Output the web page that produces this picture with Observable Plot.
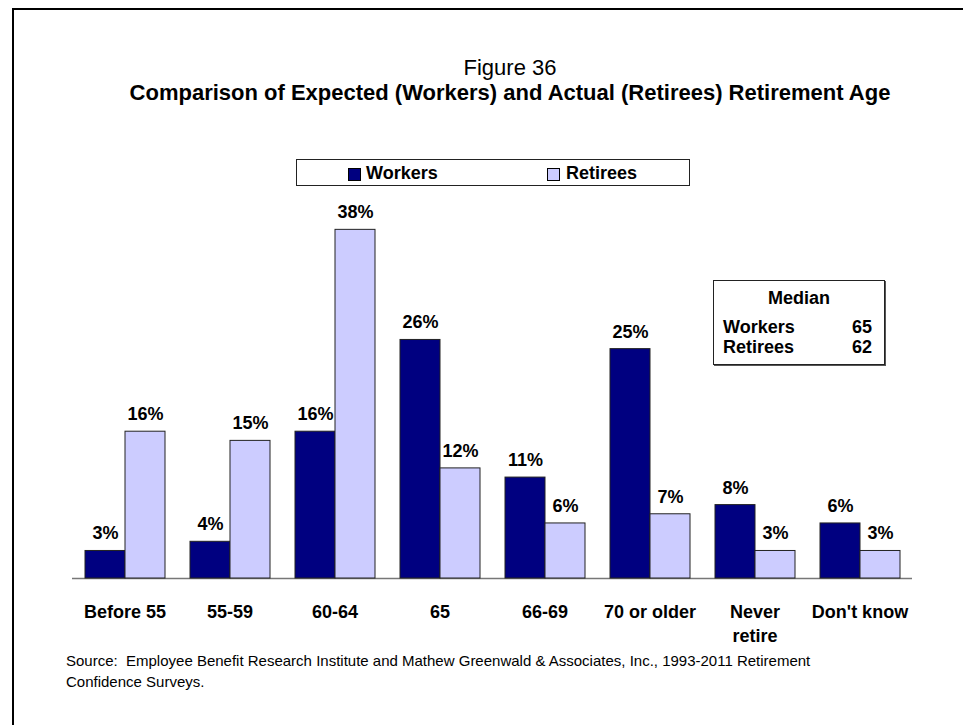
<!DOCTYPE html>
<html>
<head>
<meta charset="utf-8">
<script src="https://cdn.jsdelivr.net/npm/d3@7"></script>
<script src="https://cdn.jsdelivr.net/npm/@observablehq/plot@0.6"></script>
<style>
  body { margin: 0; background: #fff; font-family: "Liberation Sans", Arial, sans-serif; color: #000; }
  #page { position: relative; width: 963px; height: 725px; overflow: hidden; background: #fff; }
  #border { position: absolute; left: 12px; top: 8px; width: 1200px; height: 1000px; border-left: 2px solid #000; border-top: 2px solid #000; }
  .abs { position: absolute; white-space: pre; }
  #title { left: 0; width: 1020px; top: 55px; text-align: center; font-size: 22px; line-height: 25px; }
  #legend { left: 296px; top: 159px; width: 392px; height: 25px; border: 1px solid #222; background: #fff; }
  .sw { position: absolute; width: 11px; height: 11px; border: 1px solid #000; }
  .lt { font-size: 18px; font-weight: bold; line-height: 20px; }
  #median { left: 713px; top: 280px; width: 170px; height: 83px; border: 1px solid #222; background: #fff; box-shadow: 1px 1px 0 #555; z-index: 2; }
  #source { left: 66px; top: 650px; font-size: 15px; line-height: 21px; }
  #chart { position: absolute; left: 0; top: 190px; z-index: 1; }
</style>
</head>
<body>
<div id="page">
  <div id="border"></div>
  <div id="title" class="abs"></div>
  <div id="legend" class="abs"></div>
  <div id="chart"></div>
  <div id="median" class="abs"></div>
  <div id="source" class="abs"></div>
</div>
<script>
// ---- data ----
const figureLabel = "Figure 36";
const titleText = "Comparison of Expected (Workers) and Actual (Retirees) Retirement Age";
const categories = ["Before 55", "55-59", "60-64", "65", "66-69", "70 or older", "Never retire", "Don't know"];
const tickLabels = ["Before 55", "55-59", "60-64", "65", "66-69", "70 or older", "Never\nretire", "Don't know"];
const series = ["Workers", "Retirees"];
const workers = [3, 4, 16, 26, 11, 25, 8, 6];
const retirees = [16, 15, 38, 12, 6, 7, 3, 3];
const seriesColors = ["#000080", "#CCCCFF"];
const medianTitle = "Median";
const medianLabels = ["Workers", "Retirees"];
const medianValues = [65, 62];
const sourceLines = [
  "Source:  Employee Benefit Research Institute and Mathew Greenwald & Associates, Inc., 1993-2011 Retirement",
  "Confidence Surveys."
];

// ---- table ----
const data = categories.flatMap((c, i) => [
  {category: c, series: series[0], value: workers[i]},
  {category: c, series: series[1], value: retirees[i]}
]);

// ---- title ----
const t1 = document.createElement("div"); t1.textContent = figureLabel;
const t2 = document.createElement("div"); t2.textContent = titleText; t2.style.fontWeight = "bold";
document.getElementById("title").append(t1, t2);

// ---- legend ----
const page = document.getElementById("page");
const legendPos = [{sx: 348, tx: 366}, {sx: 547, tx: 566}];
series.forEach((s, i) => {
  const sw = document.createElement("div");
  sw.className = "sw abs"; sw.style.left = legendPos[i].sx + "px"; sw.style.top = "168px";
  sw.style.background = seriesColors[i]; sw.style.zIndex = 3;
  const tx = document.createElement("div");
  tx.className = "lt abs"; tx.style.left = legendPos[i].tx + "px"; tx.style.top = "163px"; tx.style.zIndex = 3;
  tx.textContent = s;
  page.append(sw, tx);
});

// ---- median box ----
const mb = document.getElementById("median");
const mh = document.createElement("div");
mh.className = "lt abs"; mh.style.left = "0"; mh.style.width = "170px"; mh.style.textAlign = "center"; mh.style.top = "7px";
mh.textContent = medianTitle;
mb.append(mh);
medianLabels.forEach((l, i) => {
  const a = document.createElement("div");
  a.className = "lt abs"; a.style.left = "9px"; a.style.top = (36 + 20 * i) + "px"; a.textContent = l;
  const b = document.createElement("div");
  b.className = "lt abs"; b.style.right = "12px"; b.style.top = (36 + 20 * i) + "px"; b.textContent = String(medianValues[i]);
  mb.append(a, b);
});

// ---- source ----
document.getElementById("source").textContent = sourceLines.join("\n");

// ---- chart ----
const plot = Plot.plot({
  width: 963,
  height: 460,
  marginLeft: 70,
  marginRight: 49,
  marginTop: 21,
  marginBottom: 72,
  style: {background: "transparent", fontFamily: "'Liberation Sans', Arial, sans-serif", color: "#000", overflow: "visible"},
  fx: {domain: categories, paddingInner: 0.224, paddingOuter: 0.1045, label: null},
  x: {domain: series, padding: 0, axis: null},
  y: {domain: [0, 40], axis: null},
  color: {domain: series, range: seriesColors},
  marks: [
    Plot.ruleY([0], {stroke: "#777", strokeWidth: 1.5, insetLeft: -12, insetRight: -12}),
    Plot.barY(data, {fx: "category", x: "series", y: "value", fill: "series", stroke: "#222", strokeWidth: 1}),
    Plot.text(data, {fx: "category", x: "series", y: "value", text: d => d.value + "%", dy: -11.5, lineAnchor: "bottom", fontSize: 18, fontWeight: "bold", fill: "#000"}),
    Plot.axisFx({anchor: "bottom", tickSize: 0, tickPadding: 22, fontSize: 18, fontWeight: "bold", lineHeight: 1.333, label: null, fill: "#000",
      tickFormat: d => tickLabels[categories.indexOf(d)]})
  ]
});
document.getElementById("chart").append(plot);
</script>
</body>
</html>
